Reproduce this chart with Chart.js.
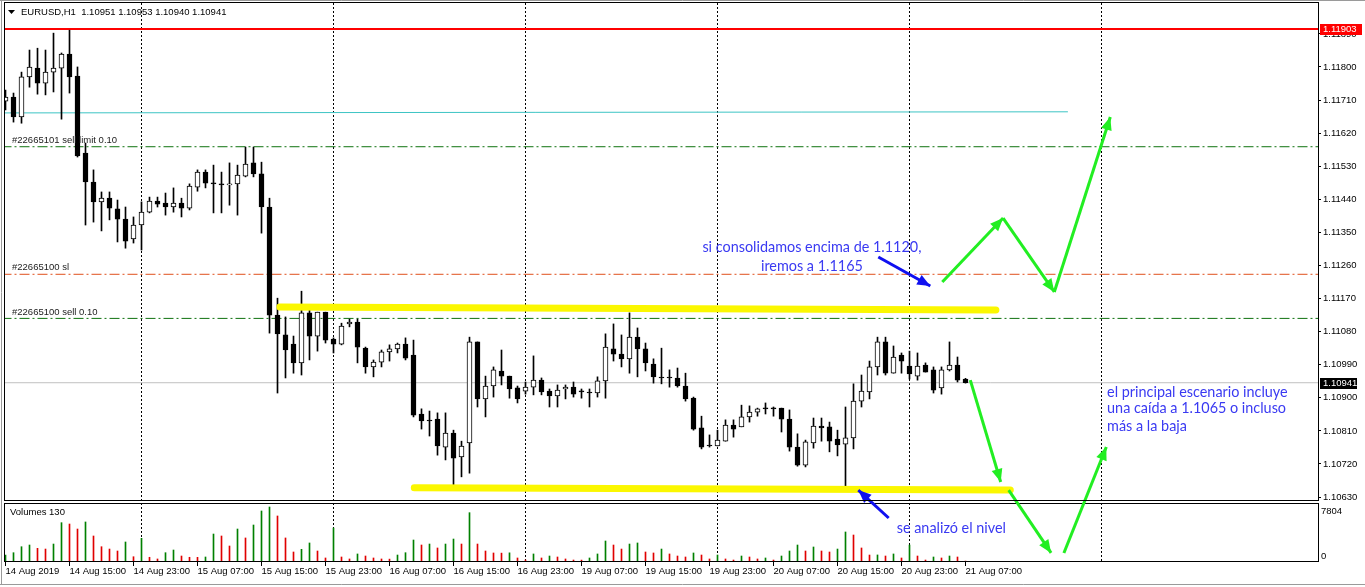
<!DOCTYPE html>
<html>
<head>
<meta charset="utf-8">
<script src="https://cdn.jsdelivr.net/npm/chart.js"></script>
<style>
body{margin:0;background:#fff;}
#wrap{position:relative;width:1365px;height:587px;overflow:hidden;}
#wrap canvas{position:absolute;left:0;top:0;}
</style>
</head>
<body>
<div id="wrap">
<canvas id="vol" width="1365" height="587"></canvas>
<canvas id="main" width="1365" height="587"></canvas>
</div>
<script>
// EURUSD H1, 14 Aug 07:00 -> 21 Aug 07:00 (one bar per hour, weekend skipped)
const symbol = 'EURUSD,H1';
const timeLabels = ['14 Aug 2019','14 Aug 15:00','14 Aug 23:00','15 Aug 07:00','15 Aug 15:00','15 Aug 23:00',
  '16 Aug 07:00','16 Aug 15:00','16 Aug 23:00','19 Aug 07:00','19 Aug 15:00','19 Aug 23:00',
  '20 Aug 07:00','20 Aug 15:00','20 Aug 23:00','21 Aug 07:00'];
const timeLabelBars = [0,8,16,24,32,40,48,56,64,72,80,88,96,104,112,120];
const dayStartBars = [17,41,65,89,113,137];
const priceTicks = [1.11890,1.11800,1.11710,1.11620,1.11530,1.11440,1.11350,1.11260,1.11170,
  1.11080,1.10990,1.10900,1.10810,1.10720,1.10630];

const open = [1.11707,1.11718,1.11664,1.11773,1.11797,1.11756,1.11786,1.11797,1.11835,1.11775,
 1.11566,1.11487,1.11433,1.11443,1.11414,1.11386,1.11332,1.11370,1.11405,1.11435,
 1.11430,1.11419,1.11430,1.11416,1.11473,1.11514,1.11484,1.11482,1.11479,1.11482,
 1.11503,1.11539,1.11509,1.11419,1.11125,1.11071,1.11046,1.10995,1.11131,1.11068,
 1.11133,1.11060,1.11046,1.11101,1.11106,1.11035,1.10984,1.10997,1.11025,1.11033,
 1.11046,1.11016,1.10856,1.10837,1.10842,1.10766,1.10804,1.10739,1.10777,1.11052,
 1.10897,1.10932,1.10973,1.10959,1.10927,1.10918,1.10929,1.10948,1.10918,1.10905,
 1.10924,1.10929,1.10916,1.10913,1.10913,1.10946,1.11033,1.11019,1.11006,1.11065,
 1.11033,1.10992,1.10956,1.10954,1.10954,1.10932,1.10899,1.10818,1.10769,1.10769,
 1.10782,1.10826,1.10821,1.10848,1.10861,1.10870,1.10870,1.10872,1.10842,1.10766,
 1.10717,1.10777,1.10823,1.10821,1.10788,1.10774,1.10791,1.10891,1.10916,1.10984,
 1.11052,1.10967,1.11016,1.10986,1.10959,1.10989,1.10976,1.10927,1.10976,1.10989,
 1.10951];
const high = [1.11737,1.11729,1.11786,1.11846,1.11851,1.11846,1.11892,1.11838,1.11900,1.11800,
 1.11593,1.11520,1.11460,1.11460,1.11438,1.11419,1.11392,1.11433,1.11446,1.11446,
 1.11457,1.11471,1.11443,1.11482,1.11520,1.11520,1.11533,1.11514,1.11539,1.11533,
 1.11582,1.11582,1.11541,1.11443,1.11171,1.11120,1.11068,1.11190,1.11139,1.11133,
 1.11133,1.11063,1.11103,1.11114,1.11114,1.11038,1.11003,1.11030,1.11044,1.11049,
 1.11063,1.11057,1.10870,1.10864,1.10859,1.10859,1.10812,1.10782,1.11065,1.11052,
 1.10959,1.10984,1.11030,1.10959,1.10932,1.10943,1.11014,1.10954,1.10924,1.10935,
 1.10935,1.10943,1.10924,1.10924,1.10957,1.11074,1.11101,1.11071,1.11131,1.11090,
 1.11049,1.11006,1.11035,1.10976,1.10981,1.10967,1.10902,1.10850,1.10799,1.10812,
 1.10840,1.10840,1.10880,1.10878,1.10872,1.10886,1.10875,1.10872,1.10867,1.10802,
 1.10785,1.10845,1.10845,1.10834,1.10812,1.10875,1.10938,1.10962,1.11000,1.11065,
 1.11065,1.11041,1.11022,1.11027,1.11022,1.10995,1.10984,1.10984,1.11052,1.11011,
 1.10953];
const low = [1.11683,1.11650,1.11647,1.11745,1.11726,1.11724,1.11732,1.11658,1.11729,1.11555,
 1.11370,1.11378,1.11354,1.11384,1.11324,1.11307,1.11321,1.11302,1.11403,1.11419,
 1.11397,1.11405,1.11392,1.11411,1.11462,1.11471,1.11403,1.11403,1.11424,1.11397,
 1.11501,1.11501,1.11348,1.11076,1.10913,1.10954,1.10967,1.10962,1.11003,1.11027,
 1.11049,1.11022,1.11044,1.11093,1.10995,1.10967,1.10957,1.10984,1.11000,1.11022,
 1.11003,1.10848,1.10815,1.10796,1.10744,1.10731,1.10657,1.10685,1.10695,1.10875,
 1.10848,1.10902,1.10935,1.10899,1.10886,1.10910,1.10908,1.10908,1.10875,1.10875,
 1.10897,1.10902,1.10899,1.10875,1.10902,1.10899,1.11000,1.10984,1.10967,1.10957,
 1.10973,1.10940,1.10938,1.10929,1.10929,1.10891,1.10812,1.10761,1.10766,1.10769,
 1.10782,1.10793,1.10821,1.10834,1.10850,1.10856,1.10850,1.10807,1.10755,1.10714,
 1.10712,1.10763,1.10782,1.10753,1.10742,1.10657,1.10761,1.10875,1.10897,1.10962,
 1.10962,1.10967,1.10967,1.10951,1.10948,1.10970,1.10913,1.10910,1.10973,1.10943,
 1.10940];
const close = [1.11718,1.11664,1.11773,1.11800,1.11756,1.11786,1.11797,1.11835,1.11773,1.11558,
 1.11487,1.11433,1.11443,1.11416,1.11386,1.11326,1.11370,1.11405,1.11435,1.11427,
 1.11419,1.11430,1.11416,1.11476,1.11514,1.11484,1.11482,1.11479,1.11482,1.11506,
 1.11536,1.11509,1.11419,1.11125,1.11074,1.11030,1.10995,1.11131,1.11068,1.11133,
 1.11057,1.11046,1.11095,1.11106,1.11038,1.10984,1.10997,1.11025,1.11033,1.11046,
 1.11008,1.10853,1.10837,1.10837,1.10769,1.10804,1.10736,1.10769,1.11052,1.10897,
 1.10932,1.10976,1.10959,1.10924,1.10897,1.10929,1.10948,1.10916,1.10905,1.10921,
 1.10929,1.10910,1.10916,1.10913,1.10946,1.11038,1.11019,1.11006,1.11065,1.11033,
 1.10995,1.10957,1.10954,1.10954,1.10932,1.10897,1.10815,1.10766,1.10769,1.10785,
 1.10826,1.10815,1.10848,1.10861,1.10870,1.10870,1.10870,1.10842,1.10766,1.10717,
 1.10780,1.10823,1.10818,1.10782,1.10772,1.10791,1.10891,1.10918,1.10984,1.11052,
 1.10967,1.11011,1.11000,1.10965,1.10986,1.10970,1.10921,1.10976,1.10989,1.10948,
 1.10941];
const volume = [990,1320,2170,2410,1940,1840,2550,5580,5390,4680,
 5680,3690,2170,1840,1560,2840,750,3360,670,430,
 1320,1700,850,670,660,710,3970,3690,2270,4680,
 3410,5250,7240,7804,6530,3410,1420,1800,2700,1560,
 570,4820,710,430,1140,850,570,430,410,990,
 1320,3120,2410,2550,1990,2550,3260,2550,7000,2550,
 1560,1280,1260,1300,570,280,1140,570,850,710,
 430,280,270,570,1140,2980,2410,1840,2550,2700,
 1420,1280,1840,1140,850,710,1280,990,430,990,
 430,280,850,710,430,570,280,850,1560,2410,
 1560,2130,1560,1420,1840,4260,3830,1990,990,1000,
 850,1140,570,2410,850,280,710,570,850,710,
 130];

// horizontal levels
const alertPrice = 1.11903;
const orderPrices = [1.11583, 1.11236, 1.11116];
const orderLabels = ['#22665101 sell limit 0.10', '#22665100 sl', '#22665100 sell 0.10'];
const orderColors = ['#0f720f', '#e0501c', '#0f720f'];
const lastPrice = close[close.length - 1];
const trendBars = [-1, 132.8], trendPrices = [1.11675, 1.11678];
const resistBars = [34.3, 123.8], resistPrices = [1.11147, 1.11139];
const supportBars = [51.1, 125.6], supportPrices = [1.10655, 1.10649];

// drawn arrows: [bar, price] pairs
const greenArrows = [
  [[117.1, 1.11215], [124.7, 1.11389]],
  [[124.7, 1.11389], [131.1, 1.11188]],
  [[131.1, 1.11188], [138.1, 1.11664]],
  [[120.6, 1.10948], [124.4, 1.10671]],
  [[125.4, 1.10649], [130.7, 1.10478]],
  [[132.3, 1.10478], [137.6, 1.10766]]
];
const blueArrows = [
  [[109.1, 1.11283], [115.6, 1.11204]],
  [[110.4, 1.10573], [106.6, 1.10649]]
];
const notes = [
  {text: 'si consolidamos encima de 1.1120,', bar: 100.8, price: 1.11310, align: 'center'},
  {text: 'iremos a 1.1165', bar: 100.8, price: 1.11258, align: 'center'},
  {text: 'el principal escenario incluye', bar: 137.7, price: 1.10916, align: 'left'},
  {text: 'una caída a 1.1065 o incluso', bar: 137.7, price: 1.10870, align: 'left'},
  {text: 'más a la baja', bar: 137.7, price: 1.10821, align: 'left'},
  {text: 'se analizó el nivel', bar: 111.4, price: 1.10546, align: 'left'}
];

const xMin = -0.0625, xMax = 164.0625;
const priceMin = 1.10622, priceMax = 1.11974;
const smallFont = '9.5px "Liberation Sans", Arial, sans-serif';
const noteFont = '14.4px Lato, "Noto Sans", sans-serif';
const bars = open.map((_, i) => i);

function levelLine(price, color, width, dash, order) {
  return {type: 'line', data: [{x: -5, y: price}, {x: 200, y: price}], borderColor: color,
    borderWidth: width, borderDash: dash || [], pointRadius: 0, order: order};
}
function arrowLine(seg, color) {
  return {type: 'line', data: seg.map(p => ({x: p[0], y: p[1]})), borderColor: color, borderWidth: 3,
    pointRadius: 0, clip: false, order: 0, arrow: true, headLen: 13, headWid: 5.5};
}

const datasets = [
  {label: 'body', data: bars.map(i => ({x: i, y: [open[i], close[i]]})), barThickness: 5, minBarLength: 1,
   borderWidth: 1, borderSkipped: false, borderColor: '#000', grouped: false, clip: 0, order: 2,
   backgroundColor: c => close[c.dataIndex] > open[c.dataIndex] ? '#fff' : '#000'},
  {label: 'wick', data: bars.map(i => ({x: i, y: [low[i], high[i]]})), barThickness: 1,
   backgroundColor: '#000', grouped: false, clip: 0, order: 3},
  levelLine(orderPrices[0], orderColors[0], 1, [10, 3, 2, 3], 4),
  levelLine(orderPrices[1], orderColors[1], 1, [10, 3, 2, 3], 4),
  levelLine(orderPrices[2], orderColors[2], 1, [10, 3, 2, 3], 4),
  levelLine(lastPrice, '#c0c0c0', 1, [], 5),
  levelLine(alertPrice, '#ff0000', 2, [], 4),
  {type: 'line', data: trendBars.map((b, i) => ({x: b, y: trendPrices[i]})), borderColor: '#3cc4c4',
   borderWidth: 1, pointRadius: 0, order: 4},
  {type: 'line', data: resistBars.map((b, i) => ({x: b, y: resistPrices[i]})), borderColor: '#fbf700',
   borderWidth: 7, borderCapStyle: 'round', pointRadius: 0, order: 1},
  {type: 'line', data: supportBars.map((b, i) => ({x: b, y: supportPrices[i]})), borderColor: '#fbf700',
   borderWidth: 7, borderCapStyle: 'round', pointRadius: 0, order: 1},
  ...greenArrows.map(s => arrowLine(s, '#22ee22')),
  ...blueArrows.map(s => arrowLine(s, '#1010f0'))
];

const mainDecor = {
  id: 'mainDecor',
  afterDatasetsDraw(chart) {
    const {ctx} = chart, xs = chart.scales.x, ys = chart.scales.y;
    chart.data.datasets.forEach(ds => {
      if (!ds.arrow) return;
      const a = ds.data[ds.data.length - 2], b = ds.data[ds.data.length - 1];
      const x1 = xs.getPixelForValue(a.x), y1 = ys.getPixelForValue(a.y);
      const x2 = xs.getPixelForValue(b.x), y2 = ys.getPixelForValue(b.y);
      const ang = Math.atan2(y2 - y1, x2 - x1), L = ds.headLen, W = ds.headWid;
      const bx = x2 - L * Math.cos(ang), by = y2 - L * Math.sin(ang);
      ctx.save();
      ctx.fillStyle = ds.borderColor;
      ctx.beginPath();
      ctx.moveTo(x2, y2);
      ctx.lineTo(bx + W * Math.sin(ang), by - W * Math.cos(ang));
      ctx.lineTo(bx - W * Math.sin(ang), by + W * Math.cos(ang));
      ctx.closePath();
      ctx.fill();
      ctx.restore();
    });
  },
  afterDraw(chart) {
    const {ctx, chartArea: ca} = chart, xs = chart.scales.x, ys = chart.scales.y;
    ctx.save();
    ctx.strokeStyle = '#000';
    ctx.lineWidth = 1;
    ctx.strokeRect(ca.left - 0.5, ca.top - 0.5, ca.right - ca.left + 1, ca.bottom - ca.top + 1);
    // header
    ctx.fillStyle = '#000';
    ctx.beginPath();
    ctx.moveTo(8, 10); ctx.lineTo(15, 10); ctx.lineTo(11.5, 14); ctx.closePath(); ctx.fill();
    ctx.font = smallFont;
    ctx.textBaseline = 'middle';
    ctx.fillText(symbol + '  ' + [open, high, low, close].map(a => a[a.length - 1].toFixed(5)).join(' '), 21, 12);
    // order labels
    ctx.fillStyle = '#222';
    orderPrices.forEach((p, i) => ctx.fillText(orderLabels[i], 12, ys.getPixelForValue(p) - 6.5));
    // notes
    ctx.font = noteFont;
    ctx.fillStyle = '#3a3af2';
    notes.forEach(n => {
      ctx.textAlign = n.align;
      ctx.fillText(n.text, xs.getPixelForValue(n.bar), ys.getPixelForValue(n.price));
    });
    // price tags on the axis
    ctx.font = smallFont;
    ctx.textAlign = 'left';
    [[alertPrice, '#ff0000', 42], [lastPrice, '#000', 37]].forEach(t => {
      const py = Math.round(ys.getPixelForValue(t[0]));
      ctx.fillStyle = t[1];
      ctx.fillRect(ca.right + 2, py - 5, t[2], 11);
      ctx.fillStyle = '#fff';
      ctx.fillText(t[0].toFixed(5), ca.right + 5, py + 0.5);
    });
    ctx.restore();
  }
};

new Chart(document.getElementById('main'), {
  type: 'bar',
  data: {datasets: datasets},
  options: {
    responsive: false,
    animation: false,
    events: [],
    layout: {padding: {left: 5, top: 3, right: 0, bottom: 87}},
    plugins: {legend: {display: false}, tooltip: {enabled: false}},
    scales: {
      x: {type: 'linear', min: xMin, max: xMax, offset: false,
        afterBuildTicks: s => { s.ticks = dayStartBars.map(v => ({value: v})); },
        afterFit: s => { s.height = 0; s.paddingLeft = 0; s.paddingRight = 0; },
        ticks: {display: false},
        grid: {color: '#000', lineWidth: 1, drawTicks: false, offset: false},
        border: {display: false, dash: [2, 2]}},
      y: {type: 'linear', position: 'right', min: priceMin, max: priceMax,
        afterBuildTicks: s => { s.ticks = priceTicks.map(v => ({value: v})); },
        afterFit: s => { s.width = 47; s.paddingTop = 0; s.paddingBottom = 0; },
        ticks: {color: '#000', padding: 2, font: {family: '"Liberation Sans", Arial', size: 9.5},
          callback: v => v.toFixed(5)},
        grid: {drawOnChartArea: false, tickLength: 3, color: '#000'},
        border: {display: false}}
    }
  },
  plugins: [mainDecor]
});

const volDecor = {
  id: 'volDecor',
  afterDraw(chart) {
    const {ctx, chartArea: ca} = chart, ys = chart.scales.y;
    ctx.save();
    ctx.strokeStyle = '#000';
    ctx.lineWidth = 1;
    ctx.strokeRect(ca.left - 0.5, ca.top + 0.5, ca.right - ca.left + 1, ca.bottom - ca.top - 1);
    ctx.fillStyle = '#000';
    ctx.font = smallFont;
    ctx.textBaseline = 'middle';
    ctx.fillText('Volumes ' + volume[volume.length - 1], 10, 512.5);
    const vmax = Math.max(...volume);
    ctx.fillText(String(vmax), ca.right + 3, ys.getPixelForValue(vmax) + 4);
    ctx.fillText('0', ca.right + 3, ys.getPixelForValue(0) - 6);
    ctx.strokeStyle = '#9a9a9a';
    ctx.beginPath();
    ctx.moveTo(1.5, 0); ctx.lineTo(1.5, 585);
    ctx.moveTo(0, 584.5); ctx.lineTo(1365, 584.5);
    ctx.moveTo(0, 0.5); ctx.lineTo(1365, 0.5);
    ctx.stroke();
    ctx.restore();
  }
};

new Chart(document.getElementById('vol'), {
  type: 'bar',
  data: {datasets: [{
    data: bars.map(i => ({x: i, y: volume[i]})), barThickness: 1,
    backgroundColor: c => (c.dataIndex === 0 || volume[c.dataIndex] > volume[c.dataIndex - 1]) ? '#008000' : '#e00000'
  }]},
  options: {
    responsive: false,
    animation: false,
    events: [],
    layout: {padding: {left: 5, top: 503, right: 0, bottom: 0}},
    plugins: {legend: {display: false}, tooltip: {enabled: false}},
    scales: {
      x: {type: 'linear', min: xMin, max: xMax, offset: false,
        afterBuildTicks: s => { s.ticks = timeLabelBars.map(v => ({value: v})); },
        afterFit: s => { s.height = 25; s.paddingLeft = 0; s.paddingRight = 0; },
        ticks: {align: 'start', maxRotation: 0, autoSkip: false, padding: 0, color: '#000',
          font: {family: '"Liberation Sans", Arial', size: 9.5},
          callback: (v, i) => timeLabels[i]},
        grid: {drawOnChartArea: false, tickLength: 4, color: '#000', offset: false},
        border: {display: false}},
      xg: {type: 'linear', position: 'top', min: xMin, max: xMax, offset: false,
        afterBuildTicks: s => { s.ticks = dayStartBars.map(v => ({value: v})); },
        afterFit: s => { s.height = 0; s.paddingLeft = 0; s.paddingRight = 0; },
        ticks: {display: false},
        grid: {color: '#000', drawTicks: false, offset: false},
        border: {display: false, dash: [2, 2]}},
      y: {position: 'right', min: 0, max: 8372,
        afterFit: s => { s.width = 47; s.paddingTop = 0; s.paddingBottom = 0; },
        ticks: {display: false}, grid: {display: false}, border: {display: false}}
    }
  },
  plugins: [volDecor]
});
</script>
</body>
</html>
